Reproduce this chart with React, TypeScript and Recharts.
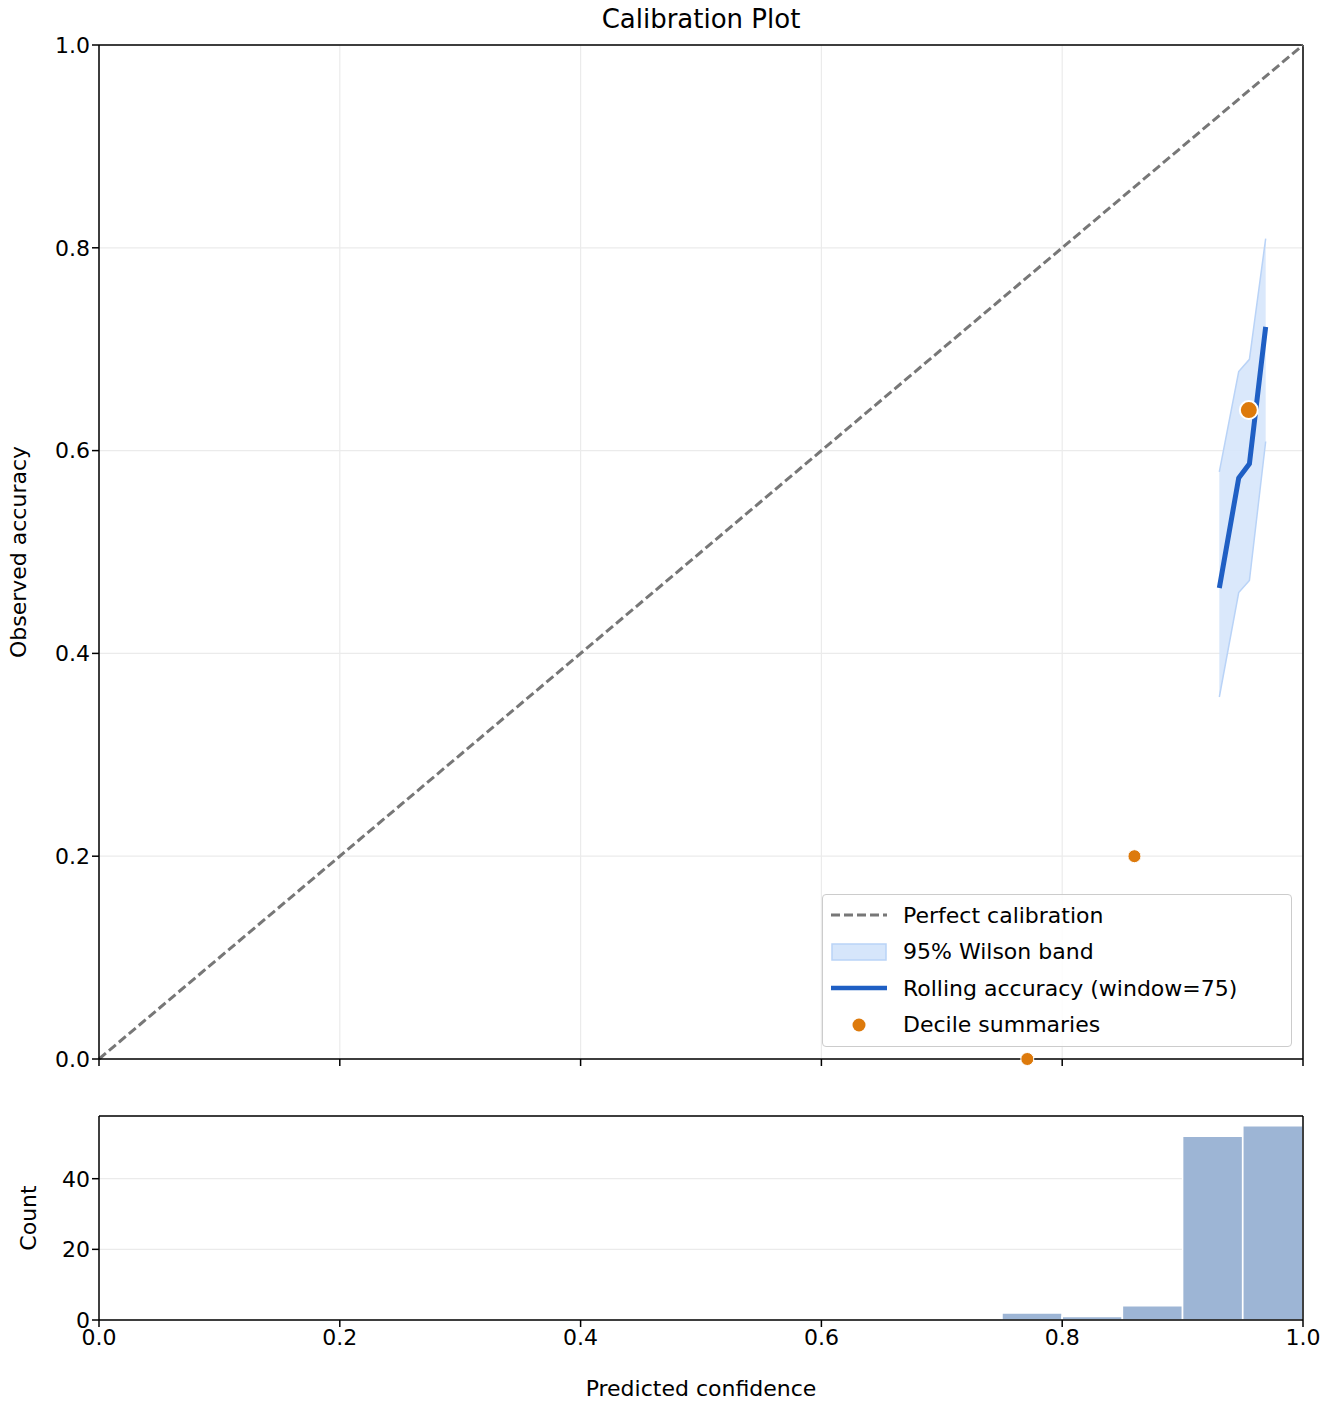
import React from 'react'
import {
  ComposedChart, Line, Area, Scatter, Bar, XAxis, YAxis, CartesianGrid, ReferenceLine,
} from 'recharts'

// rolling accuracy + wilson band
const rollX = [0.9305, 0.9466, 0.9555, 0.969]
const rollAcc = [0.4645, 0.573, 0.587, 0.722]
const bandLo = [0.357, 0.46, 0.472, 0.609]
const bandHi = [0.579, 0.678, 0.69, 0.809]

// decile summaries
const decX = [0.771, 0.86, 0.955]
const decY = [0.0, 0.2, 0.64]
const decR = [6.5, 6.5, 9]

// histogram, 20 bins of 0.05 (bin centres)
const binMid = [0.025, 0.075, 0.125, 0.175, 0.225, 0.275, 0.325, 0.375, 0.425, 0.475,
  0.525, 0.575, 0.625, 0.675, 0.725, 0.775, 0.825, 0.875, 0.925, 0.975]
const binCounts = [0, 0, 0, 0, 0, 0, 0, 0, 0, 0, 0, 0, 0, 0, 0, 2, 1, 4, 52, 55]

const ticks = [0, 0.2, 0.4, 0.6, 0.8, 1]
const countTicks = [0, 20, 40]

const FONT = 'DejaVu Sans, sans-serif'
const ORANGE = '#dd7a0c'
const BLUE = '#1f5fc4'

const rollData = rollX.map((x, i) => ({ x, acc: rollAcc[i], band: [bandLo[i], bandHi[i]] }))
const diagData = [{ x: 0, d: 0 }, { x: 1, d: 1 }]
const decData = decX.map((x, i) => ({ x, y: decY[i], r: decR[i] }))
const binData = binMid.map((m, i) => ({ x: m, count: binCounts[i] }))

const tickStyle = { fontSize: 22, fill: '#000', fontFamily: FONT }

function LegendBox() {
  const row = { display: 'flex', alignItems: 'center', height: 36.5 }
  const label = { fontSize: 22, fontFamily: FONT, color: '#000', marginLeft: 16 }
  return (
    <div style={{ width: 470, height: 153, border: '1.5px solid #ccc', borderRadius: 4, background: 'rgba(255,255,255,0.85)', padding: '2px 8px', boxSizing: 'border-box' }}>
      <div style={row}>
        <svg width={56} height={10}><line x1={0} y1={5} x2={56} y2={5} stroke="#777" strokeWidth={3} strokeDasharray="9 4" /></svg>
        <span style={label}>Perfect calibration</span>
      </div>
      <div style={row}>
        <svg width={56} height={20}><rect x={1} y={2} width={54} height={16} fill="#d6e6fb" stroke="#b9d3f7" strokeWidth={1.5} /></svg>
        <span style={label}>95% Wilson band</span>
      </div>
      <div style={row}>
        <svg width={56} height={10}><line x1={0} y1={5} x2={56} y2={5} stroke={BLUE} strokeWidth={4.5} /></svg>
        <span style={label}>Rolling accuracy (window=75)</span>
      </div>
      <div style={row}>
        <svg width={56} height={16}><circle cx={28} cy={8} r={6.5} fill={ORANGE} /></svg>
        <span style={label}>Decile summaries</span>
      </div>
    </div>
  )
}

export default function App() {
  return (
    <div style={{ position: 'absolute', left: 0, top: 0, width: 1332, height: 1404, background: '#fff' }}>
      <div style={{ position: 'absolute', top: 4, width: 1332, paddingLeft: 70, boxSizing: 'border-box', textAlign: 'center', fontFamily: FONT, fontSize: 26 }}>
        Calibration Plot
      </div>
      <div style={{ position: 'absolute', left: 0, top: 0 }}>
        <ComposedChart width={1332} height={1100} data={rollData} margin={{ top: 45, right: 29, left: 0, bottom: 0 }}>
          <CartesianGrid stroke="#ebebeb" strokeWidth={1.2} />
          <XAxis dataKey="x" type="number" domain={[0, 1]} ticks={ticks} height={41}
            stroke="#000" strokeWidth={1.5} tickSize={7} tickFormatter={() => ''} allowDuplicatedCategory={false} />
          <YAxis type="number" domain={[0, 1]} ticks={ticks} width={99} stroke="#000" strokeWidth={1.5}
            tickSize={7} tick={tickStyle} tickFormatter={(v: number) => v.toFixed(1)}
            label={{ value: 'Observed accuracy', angle: -90, position: 'insideLeft', offset: 18, style: { fontSize: 22, fontFamily: FONT, textAnchor: 'middle', fill: '#000' } }} />
          <ReferenceLine y={1} stroke="#000" strokeWidth={1.5} />
          <ReferenceLine x={1} stroke="#000" strokeWidth={1.5} />
          <Line data={diagData} dataKey="d" stroke="#777" strokeWidth={3} strokeDasharray="9 4" dot={false} isAnimationActive={false} />
          <Area dataKey="band" fill="#d6e6fb" fillOpacity={0.9} stroke="#b9d3f7" strokeWidth={1.5} type="linear" isAnimationActive={false} />
          <Line dataKey="acc" stroke={BLUE} strokeWidth={5} dot={false} type="linear" isAnimationActive={false} />
          <Scatter data={decData} dataKey="y" isAnimationActive={false}
            shape={(p: any) => <circle cx={p.cx} cy={p.cy} r={p.payload.r} fill={ORANGE} stroke="#fff" strokeWidth={p.payload.r > 8 ? 2 : 1} />} />
        </ComposedChart>
      </div>
      <div style={{ position: 'absolute', left: 822, top: 894 }}>
        <LegendBox />
      </div>
      <div style={{ position: 'absolute', left: 0, top: 1100 }}>
        <ComposedChart width={1332} height={304} data={binData} barCategoryGap={0} barGap={0} margin={{ top: 16, right: 29, left: 0, bottom: 0 }}>
          <CartesianGrid stroke="#ebebeb" strokeWidth={1.2} vertical={false} />
          <XAxis dataKey="x" type="number" domain={[0, 1]} ticks={ticks} height={84} stroke="#000" strokeWidth={1.5}
            tickSize={7} tick={tickStyle} tickFormatter={(v: number) => v.toFixed(1)}
            label={{ value: 'Predicted confidence', position: 'insideBottom', offset: 8, style: { fontSize: 22, fontFamily: FONT, fill: '#000' } }} />
          <YAxis type="number" domain={[0, 57.75]} ticks={countTicks} width={99} stroke="#000" strokeWidth={1.5}
            tickSize={7} tick={tickStyle}
            label={{ value: 'Count', angle: -90, position: 'insideLeft', offset: 28, style: { fontSize: 22, fontFamily: FONT, textAnchor: 'middle', fill: '#000' } }} />
          <Bar dataKey="count" fill="#9db5d5" stroke="#fff" strokeWidth={1.5} isAnimationActive={false} />
          <ReferenceLine y={57.75} stroke="#000" strokeWidth={1.5} />
          <ReferenceLine x={1} stroke="#000" strokeWidth={1.5} />
        </ComposedChart>
      </div>
    </div>
  )
}
